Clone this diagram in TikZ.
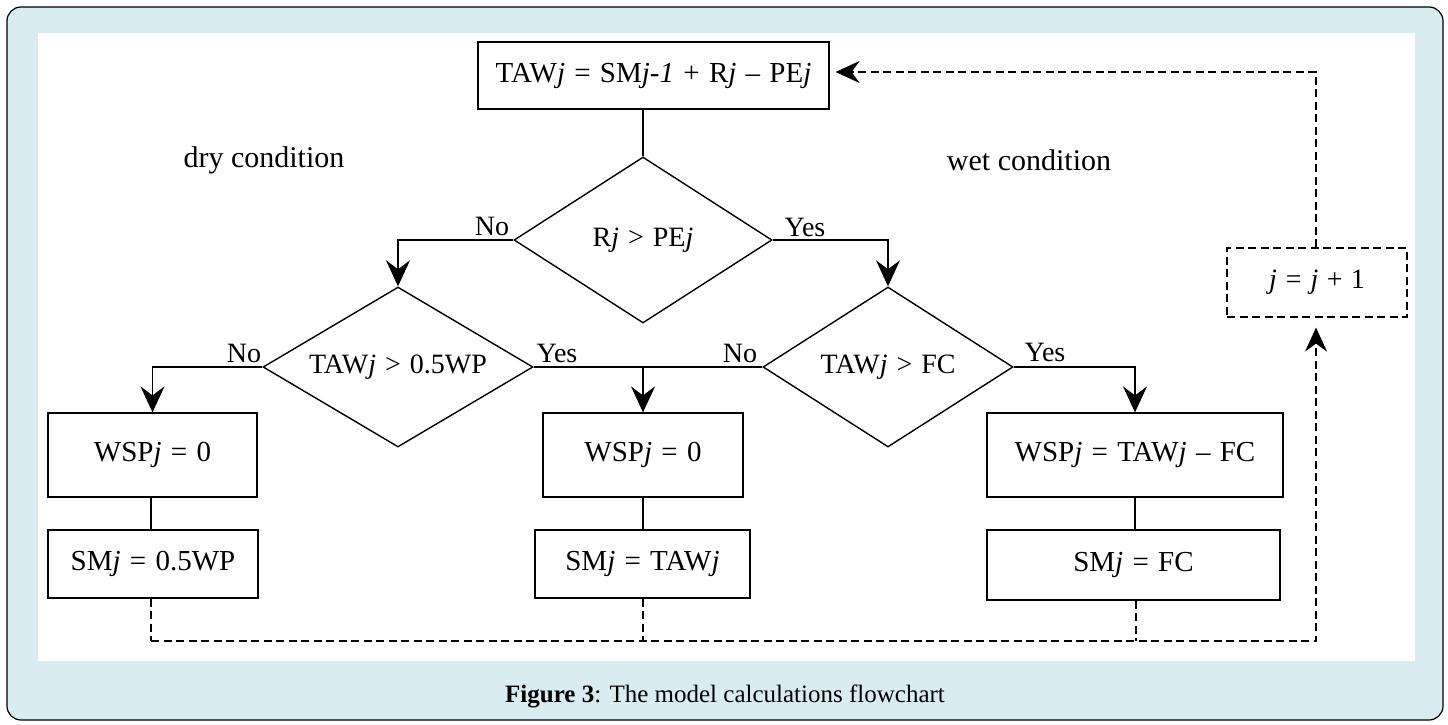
\documentclass[tikz,border=0pt]{standalone}
\usepackage{fontspec}
\setmainfont{Liberation Serif}
\usetikzlibrary{shapes.geometric,arrows.meta}
\definecolor{panel}{HTML}{D8ECF1}
\newcommand{\opx}[1]{\hspace{0.32em}#1\hspace{0.32em}}
\begin{document}
\begin{tikzpicture}[x=1pt,y=-1pt,
  box/.style={draw, line width=1.2pt, inner sep=0pt, font=\fontsize{29}{33}\selectfont},
  dia/.style={draw, diamond, aspect=1.55, inner sep=0pt, line width=1.4pt, font=\fontsize{28}{32}\selectfont},
  lbl/.style={font=\fontsize{28}{32}\selectfont, inner sep=0pt},
  conn/.style={line width=1.3pt},
  arr/.style={line width=1.3pt, -{Stealth[length=26pt,width=24pt,inset=9pt]}},
  dsh/.style={line width=1.2pt, dash pattern=on 8pt off 4.5pt},
  dsharr/.style={line width=1.2pt, dash pattern=on 8pt off 4.5pt, -{Stealth[length=24pt,width=22pt,inset=8pt]}}]
\useasboundingbox (0,0) rectangle (1448,725);
\draw[fill=panel, rounded corners=14pt, line width=1.2pt] (7,7) rectangle (1443,720);
\fill[white] (38,33) rectangle (1415,661);

% top box
\node[box, minimum width=351, minimum height=67] (top) at (653.5,75.5)
  {TAW\textit{j}\opx{=}SM\textit{j-1}\opx{+}R\textit{j}\opx{–}PE\textit{j}};

\node[lbl, font=\fontsize{30}{34}\selectfont] (dry) at (264,160) {dry condition};
\node[lbl, font=\fontsize{30}{34}\selectfont] (wet) at (1029,160) {wet condition};

% diamonds
\node[dia, minimum width=258, minimum height=166] (d1) at (643,240) {R\textit{j}\opx{>}PE\textit{j}};
\node[dia, minimum width=270, minimum height=160] (d2) at (398,367) {TAW\textit{j}\opx{>}0.5WP};
\node[dia, minimum width=250, minimum height=160] (d3) at (888,367) {TAW\textit{j}\opx{>}FC};

% boxes
\node[box, minimum width=209, minimum height=84] (w1) at (152.5,455) {WSP\textit{j}\opx{=}0};
\node[box, minimum width=210, minimum height=68] (s1) at (153,564) {SM\textit{j}\opx{=}0.5WP};
\node[box, minimum width=200, minimum height=84] (w2) at (643,455) {WSP\textit{j}\opx{=}0};
\node[box, minimum width=215, minimum height=68] (s2) at (642.5,564) {SM\textit{j}\opx{=}TAW\textit{j}};
\node[box, minimum width=296, minimum height=84] (w3) at (1135,455) {WSP\textit{j}\opx{=}TAW\textit{j}\opx{–}FC};
\node[box, minimum width=293, minimum height=70] (s3) at (1133.5,565) {SM\textit{j}\opx{=}FC};

\node[draw, dsh, inner sep=0pt, minimum width=180, minimum height=69,
  font=\fontsize{28}{32}\selectfont] (jb) at (1317,282.5) {\textit{j}\opx{=}\textit{j}\hspace{0.3em}+\hspace{0.3em}1};

% connectors
\draw[conn] (top.south -| d1.north) -- (d1.north);
\draw[arr] (d1.west) -| (d2.north);
\draw[arr] (d1.east) -| (d3.north);
\draw[arr] (d2.west) -| (w1.north);
\draw[arr] (d2.east) -| (w2.north);
\draw[conn] (d3.west) -- (d3.west -| w2.north);
\draw[arr] (d3.east) -| (w3.north);
\draw[conn] (w1.south -| 151,0) -- (s1.north -| 151,0);
\draw[conn] (w2.south) -- (s2.north -| w2.south);
\draw[conn] (w3.south) -- (s3.north -| w3.south);

\node[lbl] (no1) at (492,226) {No};
\node[lbl] (yes1) at (805,227) {Yes};
\node[lbl] (no2) at (244,353) {No};
\node[lbl] (yes2) at (557,353) {Yes};
\node[lbl] (no3) at (740,353) {No};
\node[lbl] (yes3) at (1045,352) {Yes};

% feedback loop
\coordinate (c1) at (151,641);
\coordinate (c2) at (643,641);
\coordinate (c3) at (1136,641);
\coordinate (c4) at (1316,641);
\draw[dsh] (s1.south -| c1) -- (c1);
\draw[dsh] (s2.south -| c2) -- (c2);
\draw[dsh] (s3.south -| c3) -- (c3);
\draw[dsharr, shorten >=10pt] (c1) -- (c4) -- (jb.south -| c4);
\coordinate (c5) at (1316,72);
\draw[dsharr, shorten >=6pt] (jb.north -| c5) -- (c5) -- (c5 -| top.east);

% caption
\node[inner sep=0pt, font=\fontsize{25}{29}\selectfont] (cap) at (725,696)
  {\textbf{Figure 3}: The model calculations flowchart};
\end{tikzpicture}
\end{document}
